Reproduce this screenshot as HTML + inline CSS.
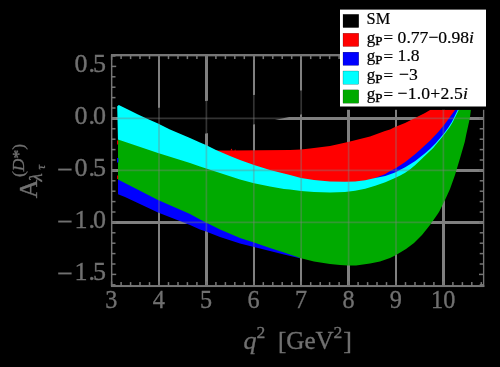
<!DOCTYPE html>
<html><head><meta charset="utf-8"><title>plot</title>
<style>html,body{margin:0;padding:0;background:#000;}body{width:500px;height:367px;overflow:hidden;font-family:"Liberation Serif",serif;}svg{display:block;will-change:transform;}</style>
</head><body>
<svg width="500" height="367" viewBox="0 0 500 367">
<rect width="500" height="367" fill="#000"/>
<defs><clipPath id="pc"><rect x="111.6" y="55.2" width="372.0" height="230.8"/></clipPath></defs>
<g fill="#808080" shape-rendering="crispEdges" clip-path="url(#pc)"><rect x="158" y="55.2" width="2" height="230.8"/><rect x="205" y="55.2" width="3" height="230.8"/><rect x="253" y="55.2" width="2" height="230.8"/><rect x="300" y="55.2" width="2" height="230.8"/><rect x="347" y="55.2" width="3" height="230.8"/><rect x="395" y="55.2" width="2" height="230.8"/><rect x="442" y="55.2" width="3" height="230.8"/><rect x="111.6" y="117" width="372.0" height="3"/><rect x="111.6" y="169" width="372.0" height="3"/><rect x="111.6" y="221" width="372.0" height="3"/></g>
<g clip-path="url(#pc)">
<polygon points="118.0,112.0 159.0,107.8 206.0,101.0 253.5,95.0 301.0,90.5 348.0,86.0 396.0,80.0 443.0,70.0 476.0,60.0 476.0,60.0 443.0,78.0 396.0,92.0 348.0,104.0 301.0,114.5 253.5,124.4 206.0,133.6 159.0,139.0 118.0,140.0" fill="#000" />
<polygon points="200.0,151.0 214.5,150.6 231.0,150.5 290.0,150.0 301.0,149.6 310.0,148.4 330.0,146.0 348.0,142.0 370.0,136.6 385.0,131.0 390.0,129.5 395.0,127.0 405.0,123.0 415.0,118.0 425.0,113.0 430.5,109.8 457.0,109.8 457.8,112.8 453.8,121.1 451.8,125.0 448.3,130.5 444.3,136.1 440.2,141.1 435.2,146.7 430.2,151.7 425.1,156.2 418.1,161.8 415.3,163.9 405.2,170.2 395.0,175.6 385.3,179.1 375.2,181.1 365.2,183.2 355.1,184.4 345.0,184.7 330.0,184.4 314.0,183.0 301.0,181.0 290.0,178.0 284.0,176.6 270.0,173.0 254.0,168.0 240.0,163.0 230.0,159.0 216.0,153.0 200.0,170.0" fill="#ff0000" />
<polygon points="230.3,150.6 231.5,148.4 232.6,150.6" fill="#ff0000"/><polygon points="234.3,150.6 235.2,149.5 236.2,150.6" fill="#ff0000"/>
<polygon points="118.0,176.4 158.0,197.0 190.0,211.0 200.0,216.4 206.0,219.4 220.0,226.6 240.0,235.0 254.0,239.6 270.0,245.0 284.0,249.4 296.0,253.4 300.0,255.0 300.0,258.3 284.0,254.4 270.0,251.0 254.0,247.0 240.0,243.4 220.0,237.0 206.0,231.6 200.0,229.6 190.0,225.0 158.0,212.4 125.0,197.0 118.0,194.3" fill="#0000ff" />
<polygon points="368.0,181.0 375.2,178.1 385.3,174.1 390.1,170.9 396.1,167.9 405.2,161.9 410.0,158.3 415.3,153.9 420.1,149.7 425.0,145.3 430.2,140.6 438.2,132.1 443.3,126.0 446.3,122.0 448.5,119.1 455.2,109.8 458.5,109.8 457.8,111.8 453.8,120.1 451.8,124.0 448.3,129.5 444.3,135.1 440.2,140.1 435.2,145.7 430.2,150.7 425.1,155.2 418.1,160.8 415.3,162.9 405.2,169.2 395.0,174.6 385.3,178.1 375.2,180.1" fill="#0000ff" />
<polygon points="117.2,106.3 118.8,105.1 130.0,110.4 138.0,114.4 150.0,120.0 158.0,123.4 170.0,129.4 190.0,138.0 200.0,142.6 206.0,145.0 216.0,150.0 230.0,156.0 240.0,160.0 254.0,165.0 270.0,170.0 284.0,173.6 290.0,175.0 301.0,178.0 314.0,180.0 330.0,181.4 345.0,181.7 355.1,181.4 365.2,180.2 375.2,178.1 385.3,176.1 395.0,172.6 405.2,167.2 415.3,160.9 418.1,158.8 425.1,153.2 430.2,148.7 435.2,143.7 440.2,138.1 444.3,133.1 448.3,127.5 451.8,122.0 453.8,118.1 457.8,109.8 459.5,109.8 458.8,112.8 454.8,121.1 452.8,125.0 449.8,130.0 445.3,136.1 442.3,140.1 437.7,145.5 433.2,150.9 427.1,156.8 421.1,162.4 415.3,168.0 410.2,172.2 405.2,175.8 400.2,178.6 395.0,181.1 385.3,185.2 375.2,188.7 365.2,191.7 355.1,193.7 345.0,195.1 330.0,195.4 314.0,195.0 301.0,194.0 290.0,192.6 284.0,192.0 270.0,189.6 254.0,186.2 240.0,182.6 220.0,176.0 200.0,169.6 190.0,166.0 158.0,156.0 118.0,142.4" fill="#00ffff" />
<polygon points="118.0,139.4 158.0,153.0 190.0,163.0 200.0,166.6 220.0,173.0 240.0,179.6 254.0,183.2 270.0,186.6 284.0,189.0 290.0,189.6 301.0,191.0 314.0,192.0 330.0,192.4 345.0,192.1 355.1,190.7 365.2,188.7 375.2,185.7 385.3,182.2 395.0,178.1 400.2,175.6 405.2,172.8 410.2,169.2 415.3,165.0 421.1,159.4 427.1,153.8 433.2,147.9 437.7,142.5 442.3,137.1 445.3,133.1 449.8,127.0 452.8,122.0 454.8,118.1 458.8,109.8 470.9,109.8 469.9,118.1 468.3,125.2 466.3,134.2 464.8,141.8 463.0,148.0 459.5,160.0 458.0,165.0 455.0,175.0 450.0,189.0 445.0,200.0 439.0,212.0 437.0,215.0 430.0,225.0 422.0,235.0 414.0,243.0 406.0,249.0 396.0,255.0 390.0,258.0 380.0,261.4 370.0,263.6 356.0,265.4 348.0,265.4 340.0,265.0 330.0,264.0 314.0,261.4 300.0,258.0 296.0,256.4 284.0,252.4 270.0,248.0 254.0,242.6 240.0,238.0 220.0,229.6 206.0,222.4 200.0,219.4 190.0,214.0 158.0,200.0 118.0,179.4" fill="#00aa00" />
<rect x="117" y="140.5" width="1.2" height="4" fill="#e00000"/>
<rect x="117" y="158" width="1.4" height="4.5" fill="#0000ff"/>
<rect x="117" y="175.5" width="1.2" height="3.5" fill="#e00000"/>
</g>
<g stroke="#808080" stroke-width="1.70" stroke-opacity="0.40" clip-path="url(#pc)"><line x1="159.0" y1="55.2" x2="159.0" y2="286.0"/><line x1="206.4" y1="55.2" x2="206.4" y2="286.0"/><line x1="253.8" y1="55.2" x2="253.8" y2="286.0"/><line x1="301.2" y1="55.2" x2="301.2" y2="286.0"/><line x1="348.6" y1="55.2" x2="348.6" y2="286.0"/><line x1="396.0" y1="55.2" x2="396.0" y2="286.0"/><line x1="443.4" y1="55.2" x2="443.4" y2="286.0"/><line x1="111.6" y1="118.4" x2="483.6" y2="118.4"/><line x1="111.6" y1="170.4" x2="483.6" y2="170.4"/><line x1="111.6" y1="222.4" x2="483.6" y2="222.4"/></g>
<g stroke="#767676" fill="none">
<g fill="#767676" stroke="none"><rect x="111" y="54" width="373.3" height="2.35"/><rect x="111" y="285.05" width="373.3" height="2.0"/><rect x="110.95" y="54" width="1.45" height="233"/><rect x="482.95" y="54" width="1.35" height="233"/></g>
<g stroke-width="1.5"><line x1="111.6" y1="286.0" x2="111.6" y2="281.4"/><line x1="111.6" y1="55.2" x2="111.6" y2="59.8"/><line x1="121.1" y1="286.0" x2="121.1" y2="282.1"/><line x1="121.1" y1="55.2" x2="121.1" y2="59.1"/><line x1="130.6" y1="286.0" x2="130.6" y2="282.1"/><line x1="130.6" y1="55.2" x2="130.6" y2="59.1"/><line x1="140.0" y1="286.0" x2="140.0" y2="282.1"/><line x1="140.0" y1="55.2" x2="140.0" y2="59.1"/><line x1="149.5" y1="286.0" x2="149.5" y2="282.1"/><line x1="149.5" y1="55.2" x2="149.5" y2="59.1"/><line x1="159.0" y1="286.0" x2="159.0" y2="281.4"/><line x1="159.0" y1="55.2" x2="159.0" y2="59.8"/><line x1="168.5" y1="286.0" x2="168.5" y2="282.1"/><line x1="168.5" y1="55.2" x2="168.5" y2="59.1"/><line x1="178.0" y1="286.0" x2="178.0" y2="282.1"/><line x1="178.0" y1="55.2" x2="178.0" y2="59.1"/><line x1="187.4" y1="286.0" x2="187.4" y2="282.1"/><line x1="187.4" y1="55.2" x2="187.4" y2="59.1"/><line x1="196.9" y1="286.0" x2="196.9" y2="282.1"/><line x1="196.9" y1="55.2" x2="196.9" y2="59.1"/><line x1="206.4" y1="286.0" x2="206.4" y2="281.4"/><line x1="206.4" y1="55.2" x2="206.4" y2="59.8"/><line x1="215.9" y1="286.0" x2="215.9" y2="282.1"/><line x1="215.9" y1="55.2" x2="215.9" y2="59.1"/><line x1="225.4" y1="286.0" x2="225.4" y2="282.1"/><line x1="225.4" y1="55.2" x2="225.4" y2="59.1"/><line x1="234.8" y1="286.0" x2="234.8" y2="282.1"/><line x1="234.8" y1="55.2" x2="234.8" y2="59.1"/><line x1="244.3" y1="286.0" x2="244.3" y2="282.1"/><line x1="244.3" y1="55.2" x2="244.3" y2="59.1"/><line x1="253.8" y1="286.0" x2="253.8" y2="281.4"/><line x1="253.8" y1="55.2" x2="253.8" y2="59.8"/><line x1="263.3" y1="286.0" x2="263.3" y2="282.1"/><line x1="263.3" y1="55.2" x2="263.3" y2="59.1"/><line x1="272.8" y1="286.0" x2="272.8" y2="282.1"/><line x1="272.8" y1="55.2" x2="272.8" y2="59.1"/><line x1="282.2" y1="286.0" x2="282.2" y2="282.1"/><line x1="282.2" y1="55.2" x2="282.2" y2="59.1"/><line x1="291.7" y1="286.0" x2="291.7" y2="282.1"/><line x1="291.7" y1="55.2" x2="291.7" y2="59.1"/><line x1="301.2" y1="286.0" x2="301.2" y2="281.4"/><line x1="301.2" y1="55.2" x2="301.2" y2="59.8"/><line x1="310.7" y1="286.0" x2="310.7" y2="282.1"/><line x1="310.7" y1="55.2" x2="310.7" y2="59.1"/><line x1="320.2" y1="286.0" x2="320.2" y2="282.1"/><line x1="320.2" y1="55.2" x2="320.2" y2="59.1"/><line x1="329.6" y1="286.0" x2="329.6" y2="282.1"/><line x1="329.6" y1="55.2" x2="329.6" y2="59.1"/><line x1="339.1" y1="286.0" x2="339.1" y2="282.1"/><line x1="339.1" y1="55.2" x2="339.1" y2="59.1"/><line x1="348.6" y1="286.0" x2="348.6" y2="281.4"/><line x1="348.6" y1="55.2" x2="348.6" y2="59.8"/><line x1="358.1" y1="286.0" x2="358.1" y2="282.1"/><line x1="358.1" y1="55.2" x2="358.1" y2="59.1"/><line x1="367.6" y1="286.0" x2="367.6" y2="282.1"/><line x1="367.6" y1="55.2" x2="367.6" y2="59.1"/><line x1="377.0" y1="286.0" x2="377.0" y2="282.1"/><line x1="377.0" y1="55.2" x2="377.0" y2="59.1"/><line x1="386.5" y1="286.0" x2="386.5" y2="282.1"/><line x1="386.5" y1="55.2" x2="386.5" y2="59.1"/><line x1="396.0" y1="286.0" x2="396.0" y2="281.4"/><line x1="396.0" y1="55.2" x2="396.0" y2="59.8"/><line x1="405.5" y1="286.0" x2="405.5" y2="282.1"/><line x1="405.5" y1="55.2" x2="405.5" y2="59.1"/><line x1="415.0" y1="286.0" x2="415.0" y2="282.1"/><line x1="415.0" y1="55.2" x2="415.0" y2="59.1"/><line x1="424.4" y1="286.0" x2="424.4" y2="282.1"/><line x1="424.4" y1="55.2" x2="424.4" y2="59.1"/><line x1="433.9" y1="286.0" x2="433.9" y2="282.1"/><line x1="433.9" y1="55.2" x2="433.9" y2="59.1"/><line x1="443.4" y1="286.0" x2="443.4" y2="281.4"/><line x1="443.4" y1="55.2" x2="443.4" y2="59.8"/><line x1="452.9" y1="286.0" x2="452.9" y2="282.1"/><line x1="452.9" y1="55.2" x2="452.9" y2="59.1"/><line x1="462.4" y1="286.0" x2="462.4" y2="282.1"/><line x1="462.4" y1="55.2" x2="462.4" y2="59.1"/><line x1="471.8" y1="286.0" x2="471.8" y2="282.1"/><line x1="471.8" y1="55.2" x2="471.8" y2="59.1"/><line x1="481.3" y1="286.0" x2="481.3" y2="282.1"/><line x1="481.3" y1="55.2" x2="481.3" y2="59.1"/><line x1="111.6" y1="284.8" x2="115.5" y2="284.8"/><line x1="483.6" y1="284.8" x2="479.7" y2="284.8"/><line x1="111.6" y1="274.4" x2="116.2" y2="274.4"/><line x1="483.6" y1="274.4" x2="479.0" y2="274.4"/><line x1="111.6" y1="264.0" x2="115.5" y2="264.0"/><line x1="483.6" y1="264.0" x2="479.7" y2="264.0"/><line x1="111.6" y1="253.6" x2="115.5" y2="253.6"/><line x1="483.6" y1="253.6" x2="479.7" y2="253.6"/><line x1="111.6" y1="243.2" x2="115.5" y2="243.2"/><line x1="483.6" y1="243.2" x2="479.7" y2="243.2"/><line x1="111.6" y1="232.8" x2="115.5" y2="232.8"/><line x1="483.6" y1="232.8" x2="479.7" y2="232.8"/><line x1="111.6" y1="222.4" x2="116.2" y2="222.4"/><line x1="483.6" y1="222.4" x2="479.0" y2="222.4"/><line x1="111.6" y1="212.0" x2="115.5" y2="212.0"/><line x1="483.6" y1="212.0" x2="479.7" y2="212.0"/><line x1="111.6" y1="201.6" x2="115.5" y2="201.6"/><line x1="483.6" y1="201.6" x2="479.7" y2="201.6"/><line x1="111.6" y1="191.2" x2="115.5" y2="191.2"/><line x1="483.6" y1="191.2" x2="479.7" y2="191.2"/><line x1="111.6" y1="180.8" x2="115.5" y2="180.8"/><line x1="483.6" y1="180.8" x2="479.7" y2="180.8"/><line x1="111.6" y1="170.4" x2="116.2" y2="170.4"/><line x1="483.6" y1="170.4" x2="479.0" y2="170.4"/><line x1="111.6" y1="160.0" x2="115.5" y2="160.0"/><line x1="483.6" y1="160.0" x2="479.7" y2="160.0"/><line x1="111.6" y1="149.6" x2="115.5" y2="149.6"/><line x1="483.6" y1="149.6" x2="479.7" y2="149.6"/><line x1="111.6" y1="139.2" x2="115.5" y2="139.2"/><line x1="483.6" y1="139.2" x2="479.7" y2="139.2"/><line x1="111.6" y1="128.8" x2="115.5" y2="128.8"/><line x1="483.6" y1="128.8" x2="479.7" y2="128.8"/><line x1="111.6" y1="118.4" x2="116.2" y2="118.4"/><line x1="483.6" y1="118.4" x2="479.0" y2="118.4"/><line x1="111.6" y1="108.0" x2="115.5" y2="108.0"/><line x1="483.6" y1="108.0" x2="479.7" y2="108.0"/><line x1="111.6" y1="97.6" x2="115.5" y2="97.6"/><line x1="483.6" y1="97.6" x2="479.7" y2="97.6"/><line x1="111.6" y1="87.2" x2="115.5" y2="87.2"/><line x1="483.6" y1="87.2" x2="479.7" y2="87.2"/><line x1="111.6" y1="76.8" x2="115.5" y2="76.8"/><line x1="483.6" y1="76.8" x2="479.7" y2="76.8"/><line x1="111.6" y1="66.4" x2="116.2" y2="66.4"/><line x1="483.6" y1="66.4" x2="479.0" y2="66.4"/><line x1="111.6" y1="56.0" x2="115.5" y2="56.0"/><line x1="483.6" y1="56.0" x2="479.7" y2="56.0"/></g>
</g>
<g font-family="Liberation Serif, serif" font-size="26" fill="#707070" stroke="#727272" stroke-width="0.35">
<text x="105.3" y="307.7" textLength="12.1" lengthAdjust="spacingAndGlyphs">3</text>
<text x="152.8" y="307.7" textLength="12.1" lengthAdjust="spacingAndGlyphs">4</text>
<text x="200.1" y="307.7" textLength="12.1" lengthAdjust="spacingAndGlyphs">5</text>
<text x="247.5" y="307.7" textLength="12.1" lengthAdjust="spacingAndGlyphs">6</text>
<text x="294.9" y="307.7" textLength="12.1" lengthAdjust="spacingAndGlyphs">7</text>
<text x="342.4" y="307.7" textLength="12.1" lengthAdjust="spacingAndGlyphs">8</text>
<text x="389.8" y="307.7" textLength="12.1" lengthAdjust="spacingAndGlyphs">9</text>
<text x="431.1" y="307.7" textLength="24.2" lengthAdjust="spacingAndGlyphs">10</text>
<text y="72.3"><tspan x="74.5">0</tspan><tspan x="88.4">.</tspan><tspan x="92.9">5</tspan></text>
<text y="124.3"><tspan x="74.5">0</tspan><tspan x="88.4">.</tspan><tspan x="92.9">0</tspan></text>
<text y="176.3"><tspan x="74.5">0</tspan><tspan x="88.4">.</tspan><tspan x="92.9">5</tspan></text>
<rect x="58.2" y="168.6" width="13.4" height="1.9" stroke="none"/>
<text y="228.3"><tspan x="74.5">1</tspan><tspan x="88.4">.</tspan><tspan x="92.9">0</tspan></text>
<rect x="58.2" y="220.6" width="13.4" height="1.9" stroke="none"/>
<text y="280.3"><tspan x="74.5">1</tspan><tspan x="88.4">.</tspan><tspan x="92.9">5</tspan></text>
<rect x="58.2" y="272.5" width="13.4" height="1.9" stroke="none"/>
<text x="243.6" y="348.5" font-style="italic">q</text>
<text x="256.4" y="337.7" font-size="17.5">2</text>
<text x="277.9" y="348.5" textLength="55.8" lengthAdjust="spacingAndGlyphs">[GeV</text>
<text x="333.6" y="337.7" font-size="17.5">2</text>
<text x="343.2" y="348.5">]</text>
<g transform="translate(37,198.2) rotate(-90)">
<text x="0" y="0">A</text>
<text x="16.6" y="5.0" font-size="19" font-style="italic">λ</text>
<text x="28.6" y="8.4" font-size="12.5" font-style="italic">τ</text>
<text x="21.2" y="-13.3" font-size="17.5">(<tspan font-style="italic">D</tspan>*)</text>
</g>
</g>
<rect x="339.3" y="100" width="150" height="9.8" fill="#000"/>
<rect x="340" y="9.6" width="146" height="96.9" fill="#fff"/>
<g font-family="Liberation Serif, serif" font-size="17" fill="#000" stroke="#000" stroke-width="0.2">
<rect x="343" y="14.3" width="15.8" height="13.3" fill="#000000"/>
<text x="366.6" y="23.7" textLength="23.6" lengthAdjust="spacingAndGlyphs">SM</text>
<rect x="343" y="33.2" width="15.8" height="13.3" fill="#ff0000"/>
<text x="366.8" y="42.6">g</text><text x="375.3" y="45.1" font-size="13" stroke-width="0.4">P</text><text x="383.5" y="43.4">=</text><text x="397.6" y="42.6" font-size="17.6">0.77−0.98<tspan font-style="italic">i</tspan></text>
<rect x="343" y="52.1" width="15.8" height="13.3" fill="#0000ff"/>
<text x="366.8" y="61.4">g</text><text x="375.3" y="63.9" font-size="13" stroke-width="0.4">P</text><text x="383.5" y="62.2">=</text><text x="397.6" y="61.4" font-size="17.6">1.8</text>
<rect x="343" y="71.0" width="15.8" height="13.3" fill="#00ffff"/>
<text x="366.8" y="80.3">g</text><text x="375.3" y="82.8" font-size="13" stroke-width="0.4">P</text><text x="383.5" y="81.1">=</text><text x="397.6" y="80.3" font-size="17.6"><tspan dx="1.5">−3</tspan></text>
<rect x="343" y="89.9" width="15.8" height="13.3" fill="#00aa00"/>
<text x="366.8" y="99.2">g</text><text x="375.3" y="101.7" font-size="13" stroke-width="0.4">P</text><text x="383.5" y="100.0">=</text><text x="397.6" y="99.2" font-size="17.6"><tspan letter-spacing="0.2">−1.0+2.5</tspan><tspan font-style="italic">i</tspan></text>
</g>
</svg>
</body></html>
